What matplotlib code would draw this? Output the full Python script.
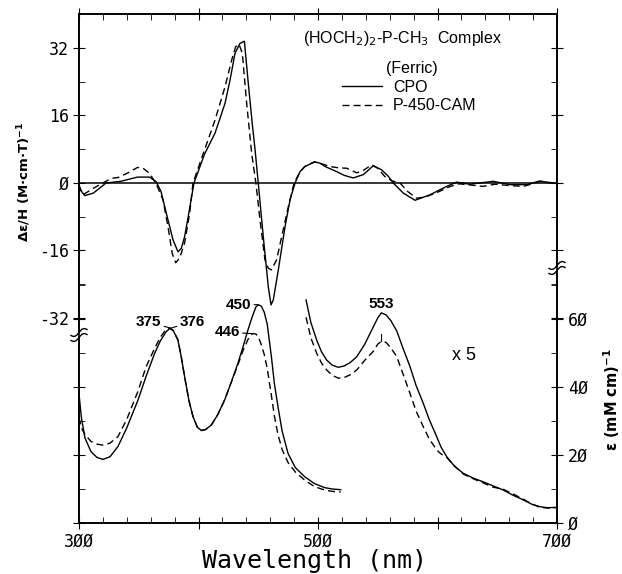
"""
MCD and absorption spectra of the ferric (HOCH2)2-P-CH3 complexes
of CPO and P-450-CAM
"""

import matplotlib
matplotlib.use('Agg')
import matplotlib.pyplot as plt
import matplotlib.ticker as mticker
import numpy as np

plt.rcParams['axes.unicode_minus'] = False

# MCD, delta-eps/H (M cm T)^-1
mcd_cpo_wl = [300, 304.8, 312, 322.6, 335, 349, 359, 364.6, 368.6, 374.5,
              378.7, 382.8, 385.6, 388.4, 392, 396.2, 405, 413.8, 422.2, 426.4,
              430.5, 434.7, 438.4, 441.7, 445, 447.3, 450, 454.2, 458.4, 460.7,
              462.6, 466.8, 472.4, 476.6, 480.8, 485, 489, 497, 501.7, 506,
              515.6, 522, 529.5, 538, 546.3, 553.3, 558.8, 563, 571.4, 581.2,
              593.7, 607.7, 616, 627, 646.7, 660.7, 674.6, 685.8, 694, 700]
mcd_cpo = [-1.2, -3.0, -2.4, 0.0, 0.4, 1.4, 1.4, 0.3, -2.0, -8.8,
           -13.5, -16.3, -15.5, -12.7, -7.0, 0.0, 6.8, 11.8, 18.9, 24.4,
           30.7, 33.1, 33.6, 23.5, 14.0, 8.0, 0.0, -12.7, -24.6, -28.9,
           -27.7, -20.6, -10.4, -4.0, 0.0, 2.7, 3.9, 5.0, 4.7, 3.9,
           2.7, 1.8, 1.2, 2.0, 4.1, 3.1, 1.6, 0.0, -2.4, -4.1,
           -2.8, -0.8, 0.2, -0.3, 0.4, -0.4, -0.4, 0.5, 0.0, 0.0]

mcd_cam_wl = [300, 303.3, 311.7, 320, 327, 332.6, 341, 349, 353.6, 359,
              364.6, 370.3, 374.5, 378, 381, 384.2, 388.4, 392.6, 395.4, 405,
              413.8, 422.2, 427.8, 431.1, 433.9, 436.7, 440.3, 444.5, 448, 451.5,
              455.6, 458.4, 461, 465.4, 469.6, 475.2, 480, 485, 489, 497,
              506, 510, 517, 524, 532.4, 538, 544.9, 550, 556, 562,
              568.6, 575, 582.5, 590, 600, 610, 618, 625, 638, 648,
              660, 672, 685, 700]
mcd_cam = [-0.5, -2.8, -1.3, 0.0, 1.1, 1.3, 2.4, 3.7, 3.5, 2.3,
           -0.2, -4.0, -10.4, -16.7, -18.9, -17.8, -14.2, -7.2, 0.0, 7.8,
           14.9, 22.8, 29.2, 32.3, 32.9, 30.7, 18.9, 7.0, 0.0, -8.8,
           -18.2, -20.2, -20.6, -18.2, -12.7, -5.6, 0.0, 2.7, 3.9, 5.0,
           4.3, 3.9, 3.6, 3.5, 2.4, 3.0, 4.3, 3.5, 1.5, 0.5,
           0.0, -2.0, -3.6, -3.3, -2.2, -0.9, -0.2, -0.4, -0.8, -0.3,
           -0.6, -0.8, 0.3, 0.0]

# absorption, eps (mM cm)^-1, 300-520 nm
abs_wl = [300, 302, 305, 310, 315, 320, 326, 332.6, 340, 349.4,
          356, 363.3, 368, 373, 376, 379, 382.8, 385.5, 388.4, 392,
          395.4, 399, 402.4, 406, 410.7, 416, 421.9, 427, 433, 437,
          441.4, 445, 448, 450, 452.5, 455, 457.5, 461, 463.5, 466.5,
          470, 474.9, 481, 488.9, 497, 505.6, 512, 519]
abs_cpo = [38.0, 31.0, 25.0, 21.0, 19.3, 18.7, 19.5, 22.5, 28.0, 36.2,
           43.0, 49.9, 53.5, 56.3, 57.2, 56.5, 53.8, 49.0, 43.0, 36.0,
           31.3, 28.2, 27.2, 27.5, 28.8, 31.8, 36.2, 41.0, 47.0, 51.5,
           56.8, 60.7, 63.5, 64.2, 63.8, 62.0, 58.5, 48.9, 41.0, 34.2,
           27.0, 20.5, 16.3, 13.6, 11.6, 10.4, 10.0, 9.8]
abs_cam = [31.0, 28.0, 26.0, 24.0, 23.2, 22.9, 23.5, 25.4, 30.5, 38.8,
           45.8, 51.4, 54.6, 57.0, 57.4, 56.6, 53.8, 49.0, 43.0, 36.0,
           31.3, 28.2, 27.2, 27.5, 28.8, 31.8, 36.2, 41.0, 46.5, 50.5,
           54.0, 55.7, 55.6, 54.8, 52.5, 49.6, 45.5, 37.5, 31.5, 26.0,
           21.6, 17.8, 15.0, 12.6, 10.7, 9.7, 9.3, 9.1]

# absorption, 490-700 nm, drawn five times enlarged
vis_wl = [490, 494, 498.9, 503, 507.3, 512, 517, 522, 527, 532.4,
          539, 546.3, 550, 553, 557, 561, 565.9, 571, 577, 582,
          588.1, 593, 599.3, 603, 607.7, 614, 621.6, 630, 638.3, 646,
          655, 663, 671.8, 679, 685.8, 692, 699.7]
vis_cpo_x5 = [65.6, 59.0, 53.8, 50.3, 47.9, 46.4, 45.8, 46.2, 47.2, 48.9,
              52.5, 57.7, 60.3, 61.8, 61.2, 59.5, 56.5, 51.5, 46.0, 40.5,
              35.2, 30.5, 25.4, 22.3, 19.5, 16.8, 14.6, 13.2, 12.1, 11.0,
              9.7, 8.2, 6.8, 5.5, 4.8, 4.5, 4.6]
vis_cam_x5 = [60.5, 54.5, 49.9, 47.0, 45.0, 43.4, 42.6, 42.8, 43.6, 45.0,
              47.8, 50.5, 52.6, 53.4, 53.1, 51.5, 48.9, 44.0, 38.1, 33.0,
              28.3, 24.8, 21.5, 20.3, 19.3, 16.8, 14.4, 13.0, 11.8, 10.6,
              9.9, 8.6, 7.0, 5.6, 4.6, 4.4, 4.5]

SOLID = dict(color='black', linewidth=1.0, linestyle='-')
DASHED = dict(color='black', linewidth=1.0, linestyle=(0, (5, 3)))
SANS = 'Liberation Sans'
MONO = 'DejaVu Sans Mono'


def slashed(value, pos=None):
    return f'{value:g}'.replace('0', '\u00d8')


def peak(wl, values, lo, hi):
    wl = np.asarray(wl)
    values = np.asarray(values)
    sel = np.where((wl >= lo) & (wl <= hi))[0]
    i = sel[np.argmax(values[sel])]
    return wl[i], values[i]


fig = plt.figure(figsize=(6.22, 5.74), dpi=100)
ax = fig.add_axes([79 / 622, 51 / 574, 478 / 622, 509 / 574])
ax2 = ax.twinx()

# MCD on the upper scale
l_cpo, = ax.plot(mcd_cpo_wl, mcd_cpo, **SOLID)
l_cam, = ax.plot(mcd_cam_wl, mcd_cam, **DASHED)
ax.axhline(0, color='black', linewidth=1.1)

# absorption on the lower scale
ax2.plot(abs_wl, abs_cpo, **SOLID)
ax2.plot(abs_wl, abs_cam, **DASHED)
ax2.plot(vis_wl, vis_cpo_x5, **SOLID)
ax2.plot(vis_wl, vis_cam_x5, **DASHED)

ax.set_xlim(300, 700)
ax.set_ylim(-80.6, 40.06)
ax2.set_ylim(0, 149.7)

ax.xaxis.set_major_locator(mticker.FixedLocator([300, 400, 500, 600, 700]))
ax.xaxis.set_minor_locator(mticker.MultipleLocator(20))
ax.xaxis.set_major_formatter(mticker.FuncFormatter(
    lambda v, p: slashed(v) if v in (300, 500, 700) else ''))
ax.yaxis.set_major_locator(mticker.FixedLocator([-32, -16, 0, 16, 32]))
ax.yaxis.set_minor_locator(mticker.FixedLocator([-24, -8, 8, 24]))
ax.yaxis.set_major_formatter(mticker.FuncFormatter(slashed))
ax2.yaxis.set_major_locator(mticker.FixedLocator([0, 20, 40, 60]))
ax2.yaxis.set_minor_locator(mticker.FixedLocator([10, 30, 50, 70]))
ax2.yaxis.set_major_formatter(mticker.FuncFormatter(slashed))

ax.tick_params(axis='x', which='major', direction='inout', length=8,
               top=True, bottom=True, labelsize=12, pad=3)
ax.tick_params(axis='x', which='minor', direction='in', length=4,
               top=True, bottom=True)
ax.tick_params(axis='y', which='major', direction='inout', length=8,
               left=True, right=True, labelleft=True, labelright=False,
               labelsize=12, pad=3)
ax.tick_params(axis='y', which='minor', direction='in', length=4,
               left=True, right=True)
ax2.tick_params(axis='y', which='major', direction='inout', length=8,
                left=True, right=True, labelleft=False, labelright=True,
                labelsize=12, pad=4)
ax2.tick_params(axis='y', which='minor', direction='in', length=4,
                left=True, right=True)
for lab in ax.get_xticklabels() + ax.get_yticklabels() + ax2.get_yticklabels():
    lab.set_fontfamily(MONO)

for a in (ax, ax2):
    for sp in a.spines.values():
        sp.set_linewidth(1.2)


# axis breaks
def axis_break(xa, ya):
    dx = 8 / 478
    dy = 1 / 509
    t = np.linspace(-1, 1, 30)
    xs = xa + t * dx
    wave = 3 * t + 2.2 * np.sin(np.pi * t)
    for off in (-2.5, 2.5):
        ax.plot(xs, ya + (off + wave) * dy, color='black', lw=1.0,
                transform=ax.transAxes, clip_on=False, zorder=6)
    ax.fill_between(xs, ya + (-2.0 + wave) * dy, ya + (2.0 + wave) * dy,
                    color='white', transform=ax.transAxes, clip_on=False,
                    zorder=5, lw=0)


axis_break(0.0, (523 - 335) / 509)
axis_break(1.0, (523 - 268) / 509)

ax.set_ylabel('\u0394\u03b5/H (M\u00b7cm\u00b7T)$^{\\mathbf{-1}}$',
              fontsize=9.5, fontweight='bold', fontfamily='DejaVu Sans')
ax.yaxis.set_label_coords((33 - 79) / 478, (523 - 182) / 509)
ax2.set_ylabel('\u03b5 (mM cm)$^{\\mathbf{-1}}$', fontsize=10.5,
               fontweight='bold', fontfamily='DejaVu Sans')
ax2.yaxis.set_label_coords((601 - 79) / 478, (523 - 400) / 509)
ax.set_xlabel('Wavelength (nm)', fontsize=18, fontfamily=MONO)
ax.xaxis.set_label_coords((314 - 79) / 478, (523 - 549) / 509)

ax.text((303 - 79) / 478, (523 - 38) / 509,
        '(HOCH$_2$)$_2$-P-CH$_3$  Complex', transform=ax.transAxes,
        fontsize=11.5, fontfamily=SANS, ha='left', va='center')
ax.text((412 - 79) / 478, (523 - 69) / 509, '(Ferric)',
        transform=ax.transAxes, fontsize=11.5, fontfamily=SANS,
        ha='center', va='center')
ax.legend([l_cpo, l_cam], ['CPO', 'P-450-CAM'],
          loc='upper left', bbox_to_anchor=(342 / 622, 1 - 80 / 574),
          bbox_transform=fig.transFigure, frameon=False,
          prop={'family': SANS, 'size': 11.5},
          handlelength=2.5, handletextpad=0.7, labelspacing=0.2,
          borderpad=0, borderaxespad=0)

# peak labels
ann = dict(fontsize=11, fontweight='bold', fontfamily=SANS,
           textcoords='offset points', va='center',
           arrowprops=dict(arrowstyle='-', lw=0.8, shrinkA=0, shrinkB=0))
wl, e = peak(abs_wl, abs_cam, 360, 390)
ax2.annotate('375', xy=(wl, e), xytext=(-6, 4), ha='right', **ann)
wl, e = peak(abs_wl, abs_cpo, 360, 390)
ax2.annotate('376', xy=(wl, e), xytext=(7, 5), ha='left', **ann)
wl, e = peak(abs_wl, abs_cpo, 430, 470)
ax2.annotate('450', xy=(wl, e), xytext=(-5, 0), ha='right', **ann)
wl, e = peak(abs_wl, abs_cam, 430, 470)
ax2.annotate('446', xy=(wl, e), xytext=(-9, 1), ha='right', **ann)
wl, e = peak(vis_wl, vis_cpo_x5, 530, 580)
ax2.annotate('553', xy=(wl, e), xytext=(0, 1), ha='center', va='bottom',
             fontsize=11, fontweight='bold', fontfamily=SANS,
             textcoords='offset points')
wl, e = peak(vis_wl, vis_cam_x5, 530, 580)
ax2.plot([wl, wl], [e, e + 2.2], color='black', lw=0.8)

ax.text((452 - 79) / 478, (523 - 355) / 509, 'x 5', transform=ax.transAxes,
        fontsize=13, fontfamily=SANS, ha='left', va='center')

fig.savefig('out.png', dpi=100)
plt.close(fig)
